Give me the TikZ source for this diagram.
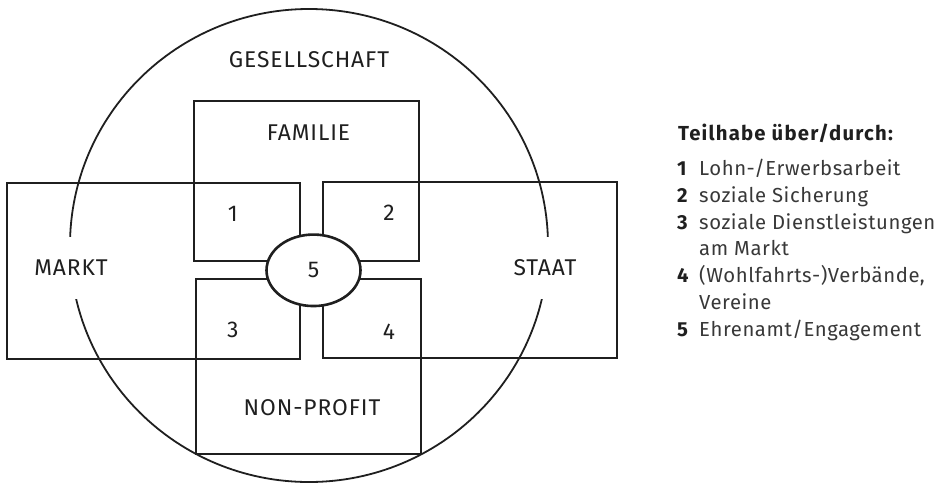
\documentclass[tikz,border=0pt]{standalone}
\usepackage{fontspec}
\setmainfont{Fira Sans}
\usetikzlibrary{shapes.geometric}

\begin{document}
\begin{tikzpicture}[x=1pt,y=-1pt,
  linie/.style = {draw=black!88, line width=2.6pt},
  marke/.style = {font=\fontsize{22.8}{27}\selectfont\addfontfeatures{LetterSpace=4}, text=black!88, inner sep=0pt},
  legende/.style = {anchor=base west, inner sep=0pt, font=\fontsize{20.3}{24}\selectfont\addfontfeatures{LetterSpace=2.8}, text=black!78},
  ziffer/.style = {anchor=base west, inner sep=0pt, font=\bfseries\fontsize{20.3}{24}\selectfont\addfontfeatures{LetterSpace=3}, text=black!88}]
\useasboundingbox (0,0) rectangle (940,483);

% Gesellschaft
\draw[draw=black!88, line width=1.8pt] (309,245.5) ellipse [x radius=239, y radius=236.5];
\node[marke] (gesellschaft) at (309,59.5) {GESELLSCHAFT};
\node[marke, fill=white, minimum height=62pt, inner xsep=4pt] (markt) at (71,268) {MARKT};
\node[marke, fill=white, minimum height=62pt, inner xsep=4pt] (staat) at (545,268) {STAAT};

% Sektoren
\draw[linie] (194,101) rectangle (419,261);
\draw[linie] (7,183) rectangle (300,359);
\draw[linie] (323,182) rectangle (617,358);
\draw[linie] (196,279) rectangle (421,454);
\node[marke] (familie) at (308.5,133) {FAMILIE};
\node[marke] (nonprofit) at (312,408) {NON-PROFIT};

% Schnittfelder
\node[marke] (eins) at (232.7,214) {1};
\node[marke] (zwei) at (389,213) {2};
\node[marke] (drei) at (232.7,330) {3};
\node[marke] (vier) at (389,332) {4};
\node[marke, linie, fill=white, ellipse, minimum width=94pt, minimum height=71.5pt] (fuenf) at (313.5,270.3) {5};

% Legende
\node[ziffer, font=\bfseries\fontsize{20.3}{24}\selectfont\addfontfeatures{LetterSpace=6}] (titel) at (678,140) {Teilhabe über/durch:};
\node[ziffer] (n1) at (677,175) {1};
\node[legende] (t1) at (699,175) {Lohn-/Erwerbsarbeit};
\node[ziffer] (n2) at (677,202) {2};
\node[legende] (t2) at (699,202) {soziale Sicherung};
\node[ziffer] (n3) at (677,229) {3};
\node[legende] (t3) at (699,229) {soziale Dienstleistungen};
\node[legende] (t3b) at (699,255.5) {am Markt};
\node[ziffer] (n4) at (677,282) {4};
\node[legende] (t4) at (699,282) {(Wohlfahrts-)Verbände,};
\node[legende] (t4b) at (699,309) {Vereine};
\node[ziffer] (n5) at (677,336) {5};
\node[legende] (t5) at (699,336) {Ehrenamt/Engagement};
\end{tikzpicture}
\end{document}
